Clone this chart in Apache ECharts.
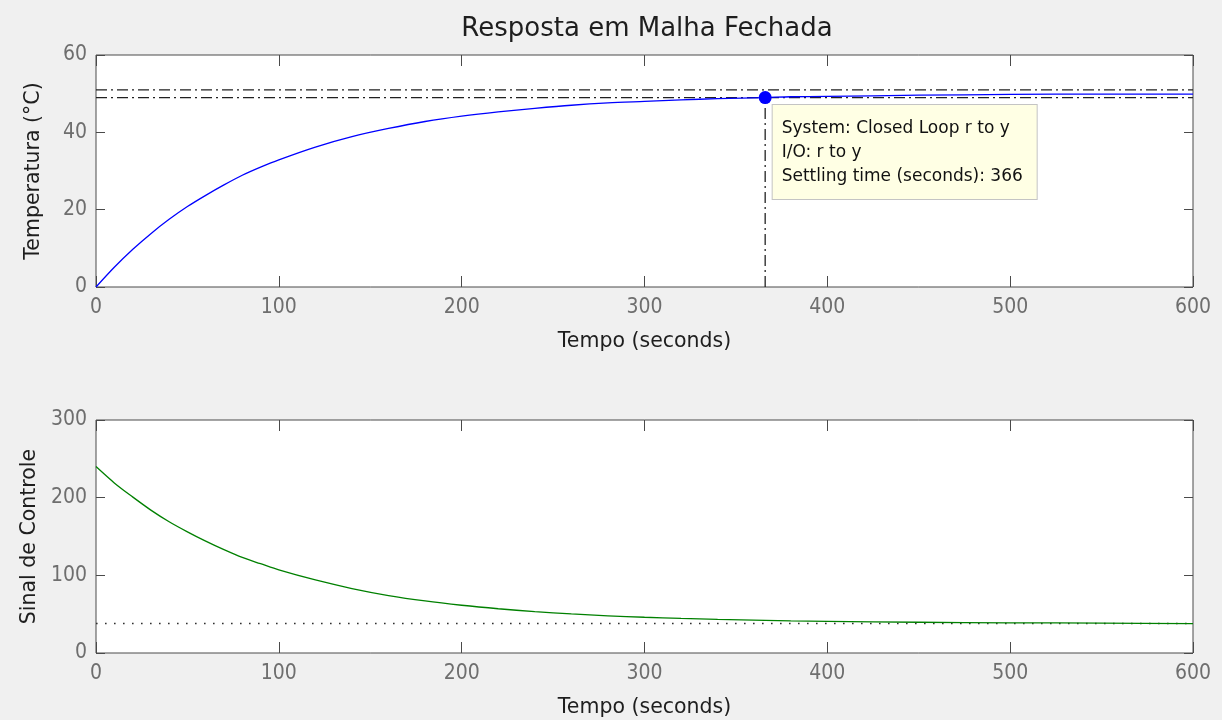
<!DOCTYPE html>
<html>
<head>
<meta charset="utf-8">
<title>Resposta em Malha Fechada</title>
<script src="https://cdn.jsdelivr.net/npm/echarts@6/dist/echarts.min.js"></script>
<style>
  html, body { margin: 0; padding: 0; background: #f0f0f0; }
  #chart { width: 1222px; height: 720px; }
</style>
</head>
<body>
<div id="chart"></div>
<script>
// Closed-loop step response (temperature) and control signal over time
const time = [0, 10, 20, 30, 40, 50, 60, 70, 80, 90, 100, 120, 140, 160, 180, 200, 220, 240, 260, 280, 300, 320, 340, 366, 380, 400, 450, 500, 550, 600];
const temperature = [0, 5.1, 9.7, 13.8, 17.5, 20.8, 23.7, 26.4, 28.9, 31.0, 32.9, 36.2, 38.9, 41.0, 42.8, 44.2, 45.3, 46.2, 47.0, 47.6, 48.0, 48.4, 48.7, 49.0, 49.2, 49.3, 49.6, 49.8, 49.9, 49.9];
const controlSignal = [240, 219, 201, 184, 169, 156, 144, 133, 123, 115, 107, 94, 83, 74, 67, 61.5, 57, 53.3, 50.3, 47.9, 46, 44.5, 43.2, 42, 41.4, 40.7, 39.6, 38.9, 38.5, 37.9];
const settlingBand = [49, 51];
const settlingTime = 366;
const settlingValue = 49;
const controlSteady = 38;
const xTicks = [0, 100, 200, 300, 400, 500, 600];
const tempTicks = [0, 20, 40, 60];
const controlTicks = [0, 100, 200, 300];
const infoLines = ['System: Closed Loop r to y', 'I/O: r to y', 'Settling time (seconds): ' + settlingTime];

const chart = echarts.init(document.getElementById('chart'), null, { renderer: 'canvas' });

const tickFont = { color: '#6e6e6e', fontSize: 21, fontFamily: 'DejaVu Sans Condensed, DejaVu Sans, sans-serif' };
const nameFont = { color: '#1e1e1e', fontSize: 20.5, fontFamily: 'DejaVu Sans, sans-serif' };
const frameColor = '#4a4a4a';
const dashDot = [11, 4, 2, 4];

function xAxisPair(gridIndex) {
  const base = {
    gridIndex, type: 'value', min: xTicks[0], max: xTicks[xTicks.length - 1], interval: 100,
    splitLine: { show: false }, axisLine: { show: false, onZero: false },
    axisTick: { show: true, inside: true, length: 11, lineStyle: { color: frameColor } }
  };
  return [
    Object.assign({}, base, {
      position: 'bottom',
      axisLabel: Object.assign({ margin: 10 }, tickFont),
      name: 'Tempo (seconds)', nameLocation: 'middle', nameGap: 44, nameTextStyle: nameFont
    }),
    Object.assign({}, base, { position: 'top', axisLabel: { show: false } })
  ];
}

function yAxisPair(gridIndex, ticks, name) {
  const base = {
    gridIndex, type: 'value', min: ticks[0], max: ticks[ticks.length - 1], interval: ticks[1] - ticks[0],
    splitLine: { show: false }, axisLine: { show: false, onZero: false },
    axisTick: { show: true, inside: true, length: 9, lineStyle: { color: frameColor } }
  };
  return [
    Object.assign({}, base, {
      position: 'left',
      axisLabel: Object.assign({ margin: 9 }, tickFont),
      name, nameLocation: 'middle', nameGap: 52, nameTextStyle: nameFont
    }),
    Object.assign({}, base, { position: 'right', axisLabel: { show: false } })
  ];
}

const pair = (xs, ys) => xs.map((x, i) => [x, ys[i]]);
const xStart = xTicks[0], xEnd = xTicks[xTicks.length - 1];

chart.setOption({
  backgroundColor: '#f0f0f0',
  animation: false,
  title: {
    text: 'Resposta em Malha Fechada',
    left: 642, top: 11, textAlign: 'center',
    textStyle: { color: '#1e1e1e', fontSize: 26, fontWeight: 'normal', fontFamily: 'DejaVu Sans, sans-serif' }
  },
  grid: [
    { left: 96, top: 55, width: 1097, height: 232, show: true, backgroundColor: '#ffffff', borderColor: frameColor, borderWidth: 1 },
    { left: 96, top: 420, width: 1097, height: 233, show: true, backgroundColor: '#ffffff', borderColor: frameColor, borderWidth: 1 }
  ],
  xAxis: [...xAxisPair(0), ...xAxisPair(1)],
  yAxis: [...yAxisPair(0, tempTicks, 'Temperatura (°C)'), ...yAxisPair(1, controlTicks, 'Sinal de Controle')],
  series: [
    // settling band (±2 %) around the final value
    ...settlingBand.map(v => ({
      type: 'line', xAxisIndex: 0, yAxisIndex: 0, symbol: 'none', silent: true,
      data: [[xStart, v], [xEnd, v]],
      lineStyle: { color: '#202020', width: 1.3, type: dashDot }
    })),
    // vertical marker at the settling time
    {
      type: 'line', xAxisIndex: 0, yAxisIndex: 0, symbol: 'none', silent: true,
      data: [[settlingTime, tempTicks[0]], [settlingTime, settlingValue]],
      lineStyle: { color: '#202020', width: 1.3, type: dashDot }
    },
    // temperature response
    {
      type: 'line', xAxisIndex: 0, yAxisIndex: 0, symbol: 'none', smooth: 0.3,
      data: pair(time, temperature),
      lineStyle: { color: '#0000ff', width: 1.3 }
    },
    // settling point with its data tip
    {
      type: 'scatter', xAxisIndex: 0, yAxisIndex: 0, symbol: 'circle', symbolSize: 13,
      data: [[settlingTime, settlingValue]],
      itemStyle: { color: '#0000ff', opacity: 1 },
      z: 5,
      label: {
        show: true,
        position: [14, 14],
        formatter: infoLines.join('\n'),
        align: 'left', verticalAlign: 'top',
        color: '#111111', fontSize: 17, lineHeight: 24,
        fontFamily: 'DejaVu Sans, sans-serif',
        backgroundColor: '#ffffe4', borderColor: '#c4c4c4', borderWidth: 1,
        padding: [12, 8, 10, 9], width: 247
      }
    },
    // steady-state control level
    {
      type: 'line', xAxisIndex: 2, yAxisIndex: 2, symbol: 'none', silent: true,
      data: [[xStart, controlSteady], [xEnd, controlSteady]],
      lineStyle: { color: '#303030', width: 1.4, type: [1.6, 7.4] }
    },
    // control signal
    {
      type: 'line', xAxisIndex: 2, yAxisIndex: 2, symbol: 'none', smooth: 0.3,
      data: pair(time, controlSignal),
      lineStyle: { color: '#008000', width: 1.3 }
    }
  ]
});
</script>
</body>
</html>
